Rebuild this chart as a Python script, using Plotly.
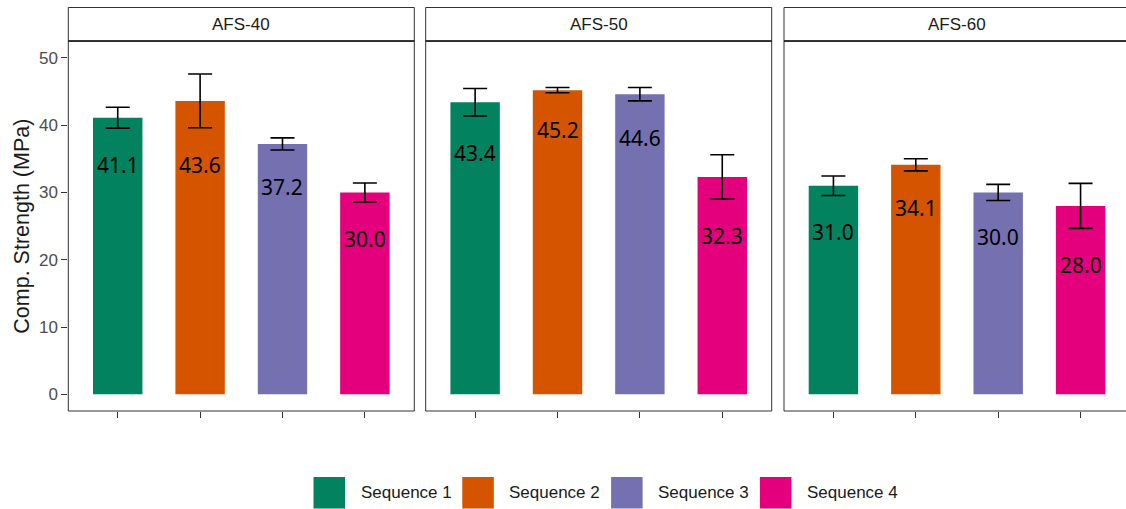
import plotly.graph_objects as go

# ---- data -------------------------------------------------------------
groups = ["AFS-40", "AFS-50", "AFS-60"]
sequences = ["Sequence 1", "Sequence 2", "Sequence 3", "Sequence 4"]
colors = ["#03825F", "#D55400", "#7570B0", "#E4007C"]

afs40_mean = [41.1, 43.6, 37.2, 30.0]
afs50_mean = [43.4, 45.2, 44.6, 32.3]
afs60_mean = [31.0, 34.1, 30.0, 28.0]

afs40_sd = [1.55, 4.0, 0.9, 1.4]
afs50_sd = [2.05, 0.4, 1.0, 3.3]
afs60_sd = [1.45, 0.9, 1.2, 3.35]

y_ticks = [0, 10, 20, 30, 40, 50]
y_title = "Comp. Strength (MPa)"

means = [afs40_mean, afs50_mean, afs60_mean]
sds = [afs40_sd, afs50_sd, afs60_sd]

# ---- layout geometry (pixels) -----------------------------------------
W, H = 1126, 509
panel_left = [68.3, 425.7, 784.0]
panel_w = 346.0
panel_top, panel_bot = 41.0, 411.0
strip_top = 7.5
px_per_unit = panel_w / 4.2

AXIS_FONT = "Liberation Sans, Arial, sans-serif"
LINE = "#333333"

fig = go.Figure()
layout_axes = {}
shapes = []
annotations = []

for g, name in enumerate(groups):
    sfx = "" if g == 0 else str(g + 1)
    xa, ya = "x" + sfx, "y" + sfx
    left = panel_left[g]
    right = min(left + panel_w, W)
    x_hi = 0.4 + (right - left) / px_per_unit
    over = panel_w / (right - left)  # frame may run past the page edge

    for i, seq in enumerate(sequences):
        fig.add_trace(go.Bar(
            x=[i + 1], y=[means[g][i]], width=0.6,
            marker=dict(color=colors[i], line=dict(width=0)),
            error_y=dict(type="data", array=[sds[g][i]], visible=True,
                         color="black", thickness=1.6, width=12),
            name=seq, showlegend=False, hoverinfo="skip",
            xaxis=xa, yaxis=ya,
        ))
        annotations.append(dict(
            x=i + 1, y=means[g][i] - sds[g][i], xref=xa, yref=ya,
            text=f"{means[g][i]:.1f}", showarrow=False,
            yanchor="top", yshift=-21,
            font=dict(family="Noto Sans", size=21, color="black"),
        ))

    layout_axes["xaxis" + sfx] = dict(
        domain=[left / W, right / W], range=[0.4, x_hi],
        tickvals=[1, 2, 3, 4], ticktext=["", "", "", ""],
        ticks="outside", ticklen=6, tickwidth=1, tickcolor=LINE,
        showgrid=False, zeroline=False, showline=False,
        anchor=ya, fixedrange=True,
    )
    layout_axes["yaxis" + sfx] = dict(
        domain=[(H - panel_bot) / H, (H - panel_top) / H],
        range=[-2.48, 52.5],
        tickvals=y_ticks if g == 0 else [],
        ticks="outside" if g == 0 else "",
        ticklen=6, tickwidth=1, tickcolor=LINE,
        showticklabels=(g == 0),
        tickfont=dict(family=AXIS_FONT, size=17, color="#4D4D4D"),
        showgrid=False, zeroline=False, showline=False,
        anchor=xa, fixedrange=True,
    )

    # panel frame
    shapes.append(dict(type="rect", xref=xa + " domain", yref=ya + " domain",
                       x0=0, x1=over, y0=0, y1=1,
                       line=dict(color=LINE, width=1), layer="above"))
    # strip box with facet label
    strip_h = (panel_top - strip_top) / (panel_bot - panel_top)
    shapes.append(dict(type="rect", xref=xa + " domain", yref=ya + " domain",
                       x0=0, x1=over, y0=1, y1=1 + strip_h,
                       fillcolor="white", line=dict(color=LINE, width=1)))
    shapes.append(dict(type="line", xref=xa + " domain", yref=ya + " domain",
                       x0=0, x1=over, y0=1, y1=1,
                       line=dict(color="#1a1a1a", width=1.6)))
    annotations.append(dict(
        x=over / 2, y=1 + strip_h / 2, xref=xa + " domain", yref=ya + " domain",
        text=name, showarrow=False, xanchor="center", yanchor="middle",
        font=dict(family=AXIS_FONT, size=17, color="#1A1A1A"),
    ))

# y axis title
annotations.append(dict(
    x=21.7 / W, y=(H - (panel_top + panel_bot) / 2) / H, xref="paper", yref="paper",
    text=y_title, textangle=-90, showarrow=False,
    xanchor="center", yanchor="middle",
    font=dict(family=AXIS_FONT, size=21.5, color="#1A1A1A"),
))

# legend along the bottom
key_left0, key_step, key_size = 313.5, 148.8, 31.5
key_top = 477.0
for i, seq in enumerate(sequences):
    kx = key_left0 + i * key_step
    shapes.append(dict(type="rect", xref="paper", yref="paper",
                       x0=kx / W, x1=(kx + key_size) / W,
                       y0=(H - key_top - key_size) / H, y1=(H - key_top) / H,
                       fillcolor=colors[i], line=dict(width=0)))
    annotations.append(dict(
        x=(kx + 45) / W, y=(H - key_top - key_size / 2) / H,
        xref="paper", yref="paper", text=seq, showarrow=False,
        xanchor="left", yanchor="middle",
        font=dict(family=AXIS_FONT, size=17, color="#1A1A1A"),
    ))

fig.update_layout(
    width=W, height=H,
    margin=dict(l=0, r=0, t=0, b=0),
    paper_bgcolor="white", plot_bgcolor="white",
    barmode="overlay", showlegend=False,
    shapes=shapes, annotations=annotations,
    **layout_axes,
)

fig.write_html("out.html")
